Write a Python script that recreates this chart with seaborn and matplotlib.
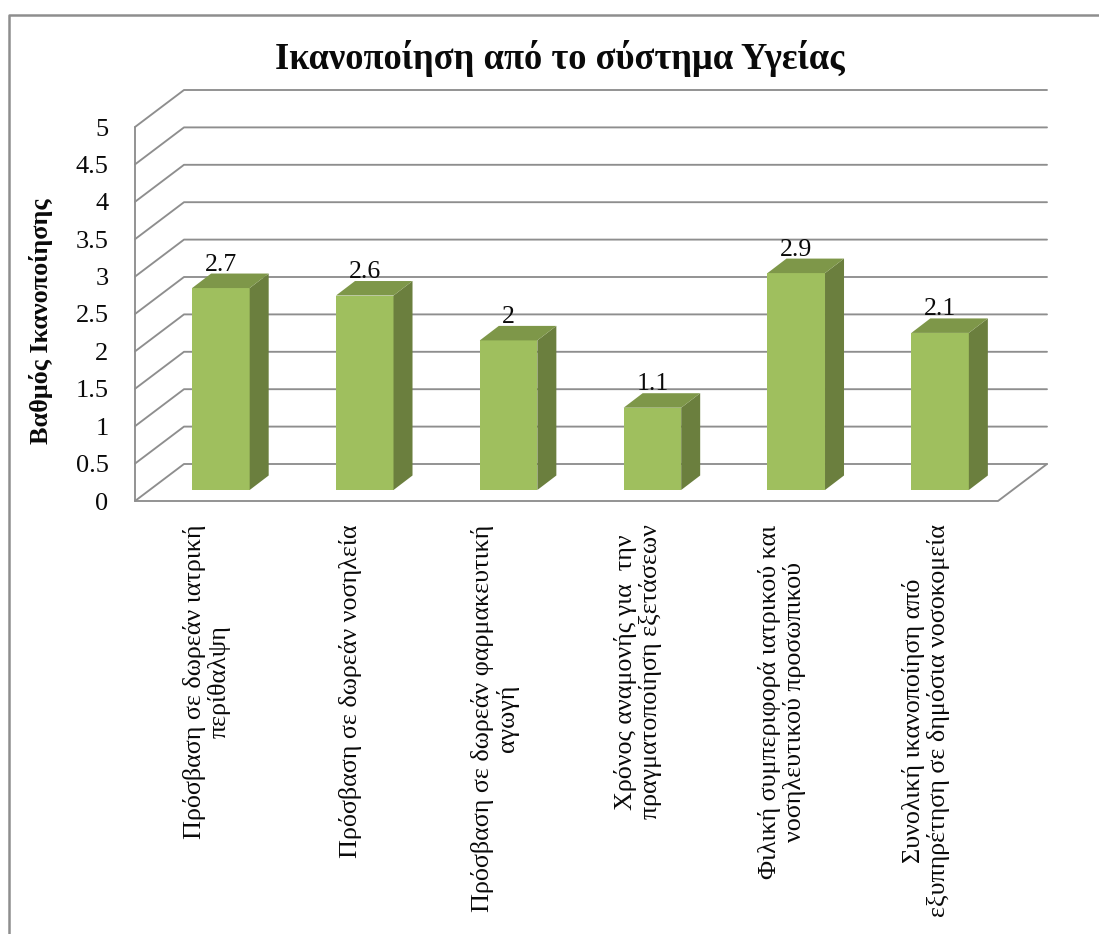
import matplotlib
matplotlib.use("Agg")
import matplotlib.pyplot as plt
from matplotlib.lines import Line2D
from matplotlib.patches import Polygon
import seaborn as sns

# Survey results
categories = [
    "Πρόσβαση σε δωρεάν ιατρική\nπερίθαλψη",
    "Πρόσβαση σε δωρεάν νοσηλεία",
    "Πρόσβαση σε δωρεάν φαρμακευτική\nαγωγή",
    "Χρόνος αναμονής για  την\nπραγματοποίηση εξετάσεων",
    "Φιλική συμπεριφορά ιατρικού και\nνοσηλευτικού προσωπικού",
    "Συνολική ικανοποίηση από\nεξυπηρέτηση σε δημόσια νοσοκομεία",
]
scores = [2.7, 2.6, 2.0, 1.1, 2.9, 2.1]
y_ticks = [0, 0.5, 1, 1.5, 2, 2.5, 3, 3.5, 4, 4.5, 5]
y_tick_labels = ["0", "0.5", "1", "1.5", "2", "2.5", "3", "3.5", "4", "4.5", "5"]
title = "Ικανοποίηση από το σύστημα Υγείας"
y_title = "Βαθμός Ικανοποίησης"

W, H = 1099, 934
FRONT, SIDE, TOP = "#9FBF5E", "#6B7F3E", "#7E9749"
GRID = "#8E8E8E"
INK = "#0A0A0A"

sns.set_theme(style="white")
plt.rcParams["font.family"] = ["Liberation Serif", "DejaVu Serif"]

fig = plt.figure(figsize=(W / 100, H / 100), dpi=100, facecolor="white")


def frame(left, right, top, bottom):
    return [left / W, 1 - bottom / H, (right - left) / W, (bottom - top) / H]


# Plot box of the front plane, in pixels of the finished figure
L, R, T, B = 135, 998, 127, 501
ax = fig.add_axes(frame(L, R, T, B))
ax.set_xlim(-0.5, 5.5)
ax.set_ylim(0, 5)
for s in ax.spines.values():
    s.set_visible(False)

# Depth of the box, expressed in data units
wall_dx = 49 / ((R - L) / 6)
wall_dy = 37 / ((B - T) / 5)
x0, x1 = -0.5, 5.5
line_kw = dict(color=GRID, lw=1.35, solid_capstyle="round", clip_on=False)
for v in y_ticks:
    ax.plot([x0, x0 + wall_dx, x1 + wall_dx], [v, v + wall_dy, v + wall_dy], **line_kw)
ax.plot([x0, x0], [0, 5], **line_kw)
ax.plot([x0, x1, x1 + wall_dx], [0, 0, wall_dy], **line_kw)

ax.set_yticks(y_ticks, y_tick_labels, fontsize=19, color=INK)
ax.set_xticks(range(6))
ax.set_xticklabels(categories, rotation=90, ha="center", va="top", multialignment="center",
                   fontsize=18.8, color=INK, linespacing=1.12)
ax.tick_params(axis="y", length=0, pad=19)
ax.tick_params(axis="x", length=0, pad=17)
ax.set_xlabel("")

# Bars stand part way into the box, so they get a shifted copy of the same scale
bx = fig.add_axes(frame(L + 14, R + 14, T - 11, B - 11))
bx.patch.set_alpha(0)
sns.barplot(x=list(range(6)), y=scores, ax=bx, width=0.40, color=FRONT, saturation=1,
            linewidth=0, zorder=3)
bx.set_xlim(-0.5, 5.5)
bx.set_ylim(0, 5)

bar_dx = 19 / ((R - L) / 6)
bar_dy = 14.5 / ((B - T) / 5)
for p in bx.patches[:len(scores)]:
    a, b, h = p.get_x(), p.get_x() + p.get_width(), p.get_height()
    bx.add_patch(Polygon([(b, 0), (b + bar_dx, bar_dy), (b + bar_dx, h + bar_dy), (b, h)],
                         closed=True, fc=SIDE, ec="none", zorder=3, clip_on=False))
    bx.add_patch(Polygon([(a, h), (b, h), (b + bar_dx, h + bar_dy), (a + bar_dx, h + bar_dy)],
                         closed=True, fc=TOP, ec="none", zorder=3, clip_on=False))

bx.bar_label(bx.containers[0], fmt="%g", padding=9, fontsize=18.5, color=INK, zorder=5)
bx.axis("off")

# Chart title and value-axis title
fig.text(560 / W, 1 - 69 / H, title, ha="center", va="baseline",
         fontsize=26.3, fontweight="bold", color=INK)
fig.text(41 / W, 1 - 321 / H, y_title, ha="center", va="center", rotation=90,
         fontsize=18.8, fontweight="bold", color=INK)

# Chart area border, cut off at the right and bottom of the figure
fig.add_artist(Line2D([8.5 / W, 8.5 / W, 1], [0, 1 - 15 / H, 1 - 15 / H],
                      color=GRID, lw=1.8, transform=fig.transFigure))

fig.savefig("out.png", dpi=100, facecolor="white")
